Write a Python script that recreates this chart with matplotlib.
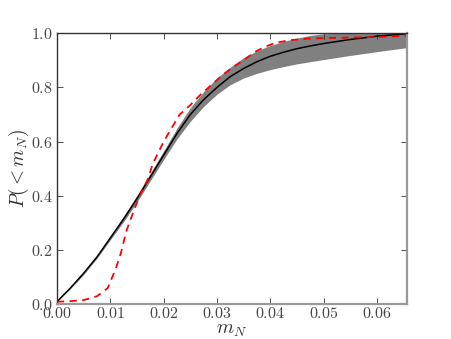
import matplotlib
matplotlib.use("Agg")
import matplotlib.pyplot as plt
from matplotlib.ticker import FuncFormatter

# values
m_grid = [0, 0.0025, 0.005, 0.0075, 0.01, 0.0125, 0.015, 0.0175, 0.02, 0.0225,
          0.025, 0.0275, 0.03, 0.0325, 0.035, 0.0375, 0.04, 0.0425, 0.045,
          0.0475, 0.05, 0.055, 0.06, 0.0656]
p_median = [0.01, 0.06, 0.115, 0.175, 0.245, 0.315, 0.39, 0.47, 0.55, 0.63,
            0.70, 0.755, 0.80, 0.84, 0.87, 0.895, 0.915, 0.93, 0.943,
            0.953, 0.962, 0.977, 0.989, 0.998]
p_upper = [0.01, 0.062, 0.12, 0.18, 0.252, 0.325, 0.402, 0.484, 0.566, 0.65,
           0.725, 0.785, 0.835, 0.875, 0.91, 0.935, 0.955, 0.97, 0.982,
           0.992, 0.998, 1.0, 1.0, 1.0]
p_lower = [0.01, 0.058, 0.11, 0.17, 0.238, 0.305, 0.378, 0.456, 0.534, 0.61,
           0.675, 0.73, 0.775, 0.81, 0.835, 0.852, 0.866, 0.877, 0.887,
           0.895, 0.903, 0.918, 0.932, 0.947]

m_obs = [0, 0.0025, 0.005, 0.0075, 0.0095, 0.011, 0.012, 0.013, 0.0145, 0.0155,
         0.017, 0.018, 0.0185, 0.02, 0.0215, 0.023, 0.025, 0.027, 0.029, 0.031,
         0.033, 0.035, 0.037, 0.039, 0.041, 0.044, 0.047, 0.05, 0.055, 0.06, 0.0656]
p_obs = [0.01, 0.012, 0.016, 0.03, 0.06, 0.13, 0.19, 0.27, 0.35, 0.40,
         0.46, 0.52, 0.54, 0.60, 0.65, 0.70, 0.735, 0.775, 0.81, 0.845,
         0.875, 0.90, 0.93, 0.95, 0.965, 0.975, 0.98, 0.982, 0.984, 0.986, 0.99]

plt.rcParams['mathtext.fontset'] = 'cm'
plt.rcParams['xtick.direction'] = 'in'
plt.rcParams['ytick.direction'] = 'in'

fig = plt.figure(figsize=(4.52, 3.39), dpi=100)
ax = fig.add_axes([0.126, 0.102, 0.774, 0.8])

ax.fill_between(m_grid, p_lower, p_upper, color='#808080', lw=0)
ax.plot(m_grid, p_median, color='black', lw=1.1)
ax.plot(m_obs, p_obs, color='red', lw=1.3, ls=(0, (4, 3)))

ax.set_xlim(0, 0.0656)
ax.set_ylim(0, 1.0)
ax.set_xticks([0, 0.01, 0.02, 0.03, 0.04, 0.05, 0.06])
ax.set_yticks([0, 0.2, 0.4, 0.6, 0.8, 1.0])
ax.xaxis.set_major_formatter(FuncFormatter(lambda v, p: r'$%.2f$' % v))
ax.yaxis.set_major_formatter(FuncFormatter(lambda v, p: r'$%.1f$' % v))
ax.tick_params(top=True, right=True, labelsize=11.5, length=4, width=0.6,
               color='#333333', labelcolor='#444444')
ax.tick_params(axis='x', pad=1)
ax.tick_params(axis='y', pad=3)

for side in ['left', 'top']:
    ax.spines[side].set_color('#333333')
    ax.spines[side].set_linewidth(1.0)
for side in ['bottom', 'right']:
    ax.spines[side].set_color('#999999')
    ax.spines[side].set_linewidth(1.6)

ax.set_xlabel(r'$m_N$', fontsize=14, color='#333333')
ax.set_ylabel(r'$P(<m_N)$', fontsize=14, color='#333333')
ax.xaxis.set_label_coords(0.5, -0.058)
ax.yaxis.set_label_coords(-0.075, 0.5)

fig.savefig('out.png', dpi=100)
